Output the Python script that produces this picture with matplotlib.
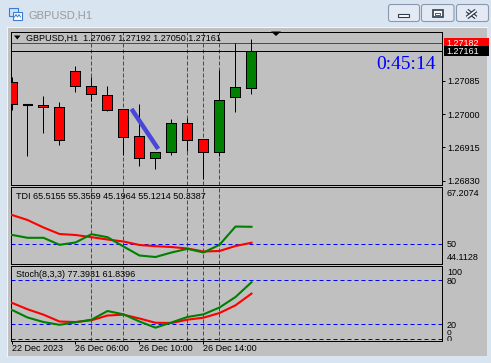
import matplotlib
matplotlib.use('Agg')
import matplotlib.pyplot as plt
from matplotlib.patches import Rectangle, FancyBboxPatch, Polygon
from matplotlib.transforms import Bbox, TransformedBbox, blended_transform_factory

plt.rcParams['font.family'] = ['Liberation Sans', 'DejaVu Sans']

# ---- data (H1 bars, oldest first) ----
symbol = 'GBPUSD,H1'
opens = [1.27081, 1.27023, 1.27022, 1.27017, 1.27109, 1.27071, 1.27048, 1.27012,
         1.26943, 1.26887, 1.26902, 1.26976, 1.26936, 1.26902, 1.27043, 1.27067]
highs = [1.27094, 1.27024, 1.27046, 1.27031, 1.27122, 1.27094, 1.27071, 1.27013,
         1.27026, 1.26902, 1.26987, 1.26990, 1.26936, 1.27112, 1.27182, 1.27192]
lows = [1.27010, 1.26894, 1.26952, 1.26922, 1.27057, 1.27034, 1.27009, 1.26896,
        1.26868, 1.26859, 1.26896, 1.26907, 1.26835, 1.26893, 1.27006, 1.27050]
closes = [1.27025, 1.27023, 1.27017, 1.26933, 1.27071, 1.27050, 1.27011, 1.26942,
          1.26887, 1.26902, 1.26976, 1.26933, 1.26902, 1.27035, 1.27068, 1.27161]

tdi_green = [52.72, 51.82, 51.82, 49.72, 50.41, 52.90, 52.00, 49.21,
             46.51, 46.06, 47.41, 48.52, 47.41, 49.72, 55.20, 55.1214]
tdi_red = [58.72, 57.16, 54.91, 52.96, 52.66, 52.00, 51.31, 50.71,
           49.66, 49.30, 49.06, 48.61, 47.71, 47.86, 49.36, 50.3387]
tdi_values = [65.5155, 55.3559, 45.1964, 55.1214, 50.3387]
tdi_min, tdi_max, tdi_level = 44.1128, 67.2074, 50

stoch_main = [39.9, 29.3, 23.1, 19.3, 22.7, 26.3, 38.1, 33.6,
              23.8, 15.4, 22.5, 30.0, 33.6, 42.9, 57.2, 77.3931]
stoch_signal = [49.5, 40.5, 33.1, 23.8, 23.1, 25.5, 32.0, 33.1,
                27.9, 22.1, 21.8, 26.3, 29.0, 35.4, 45.9, 61.8396]
stoch_levels = [0, 20, 80]

price_ticks = [1.26830, 1.26915, 1.27000, 1.27085]
ask_price = 1.27182
bid_price = 1.27161

time_bars = [0, 4, 8, 12]
time_labels = ['22 Dec 2023', '26 Dec 06:00', '26 Dec 10:00', '26 Dec 14:00']

vline_green = [5, 11, 13]
vline_red = [7, 12]
trend_x = [7.5, 9.17]
trend_y = [1.27013, 1.26911]
countdown = '0:45:14'

# ---- figure in pixel units ----
W, H = 491, 363
GRAY = '#c0c0c0'
LW = 0.72  # one pixel at 100 dpi
fig = plt.figure(figsize=(W / 100, H / 100), dpi=100, facecolor='#d9e4f1')


def px_axes(x0, y0, x1, y1, **kw):
    return fig.add_axes([x0 / W, 1 - y1 / H, (x1 - x0) / W, (y1 - y0) / H], **kw)


def px_layer(z):
    a = px_axes(0, 0, W, H, zorder=z)
    a.set_xlim(0, W)
    a.set_ylim(H, 0)
    a.axis('off')
    return a


bg = px_layer(0)
top = px_layer(5)

# window chrome
bg.add_patch(Rectangle((7, 27), 480, 329, fc=GRAY, ec='none'))
bg.plot([7, 7], [27, 356], color='#f4f4f4', lw=0.8)
bg.plot([7, 487], [27, 27], color='#f4f4f4', lw=0.8)
bg.text(29, 19, symbol, fontsize=8, color='#9a9a9a', va='baseline')
bg.add_patch(Rectangle((9, 8), 9, 8, fc='#cfe2f8', ec='#3b7bd0', lw=0.8))
bg.add_patch(Rectangle((13, 12), 9, 8, fc='white', ec='#3b7bd0', lw=0.8))
bg.plot([14.5, 16, 17.5, 19, 20.5], [17, 14.5, 17, 14.5, 17], color='#3b7bd0', lw=0.7)

for bx0, bx1 in [(388.5, 419.5), (421.5, 454), (456.5, 488.5)]:
    bg.add_patch(FancyBboxPatch((bx0, 4.5), bx1 - bx0, 17, boxstyle='round,pad=0,rounding_size=2.5',
                                fc='#e3eaf4', ec='#8a99b0', lw=0.8))
bg.add_patch(Rectangle((398, 13.5), 11, 3, fc='white', ec='#2f3c50', lw=0.8))
bg.add_patch(Rectangle((433, 10), 10, 7, fc='white', ec='#2f3c50', lw=1.2))
bg.add_patch(Rectangle((435.5, 12.5), 5, 2.5, fc='white', ec='#2f3c50', lw=0.6))
for xs_, ys_ in [([467, 476], [10.5, 17.5]), ([467, 476], [17.5, 10.5])]:
    bg.plot(xs_, ys_, color='#2f3c50', lw=3.0, solid_capstyle='butt')
    bg.plot(xs_, ys_, color='white', lw=1.2, solid_capstyle='butt')

# ---- panels ----
x_lo = (10.5 - 11.5) / 16
x_hi = (442.5 - 11.5) / 16
main = px_axes(10.5, 31.5, 442.5, 184.5, zorder=2)
tdi = px_axes(10.5, 186.5, 442.5, 263.5, zorder=2)
sto = px_axes(10.5, 265.5, 442.5, 340.5, zorder=2)

for a in (main, tdi, sto):
    a.set_facecolor(GRAY)
    a.set_xlim(x_lo, x_hi)
    for s in a.spines.values():
        s.set_linewidth(LW)
        s.set_color('black')
    a.yaxis.tick_right()
    a.tick_params(axis='y', labelsize=6.5, colors='black', length=0, pad=3.2)
    a.tick_params(axis='x', bottom=False, labelbottom=False)
    for x in vline_green:
        a.axvline(x, color='#008000', lw=LW, ls=(0, (4, 2)), zorder=1)
    for x in vline_red:
        a.axvline(x, color='#ff0000', lw=LW, ls=(0, (4, 2)), zorder=1)

# main price panel
main.set_ylim(1.268203, 1.272105)
for i, (o, h, l, c) in enumerate(zip(opens, highs, lows, closes)):
    main.vlines(i, l, h, color='black', lw=LW, zorder=3)
    if c == o:
        main.hlines(o, i - 0.3125, i + 0.3125, color='black', lw=1.5, zorder=4)
    else:
        col = '#008000' if c > o else '#ff0000'
        main.add_patch(Rectangle((i - 0.3125, min(o, c)), 0.625, abs(c - o), fc=col,
                                 ec='black', lw=LW, antialiased=False, zorder=4))
main.axhline(ask_price, color='#ff0000', lw=LW, zorder=2)
main.axhline(bid_price, color='black', lw=LW, zorder=2)
main.plot(trend_x, trend_y, color='#4848d8', lw=3.2, solid_capstyle='butt', zorder=5)
main.set_yticks(price_ticks, labels=[f'{p:.5f}' for p in price_ticks])
main.tick_params(axis='y', direction='out', length=2.5, width=LW, pad=1)

bl = blended_transform_factory(bg.transData, main.transData)
half = 0.000118
for price, col in [(ask_price, '#ff0000'), (bid_price, 'black')]:
    main.add_patch(Rectangle((444, price - half), 45, 2 * half, transform=bl, fc=col,
                             ec='none', clip_on=False, zorder=6))
    main.text(446.5, price, f'{price:.5f}', transform=bl, color='white', fontsize=6.5,
              va='center_baseline', clip_on=False, zorder=7)

header = f'{symbol}  {opens[-1]:.5f} {highs[-1]:.5f} {lows[-1]:.5f} {closes[-1]:.5f}'
top.text(26, 41, header, fontsize=6.5, va='baseline')
top.add_patch(Polygon([[14, 35.5], [20.5, 35.5], [17.25, 39.5]], closed=True, fc='black'))
top.add_patch(Polygon([[271, 31.5], [281, 31.5], [276, 36]], closed=True, fc='black'))
top.text(436, 69, countdown, fontsize=14, color='#0000ff', family='Liberation Serif',
         ha='right', va='baseline')

# TDI panel
tdi.set_ylim(tdi_min, tdi_max)
xs = list(range(len(tdi_green)))
tdi.axhline(tdi_level, color='#0000ff', lw=LW, ls=(0, (4, 3)), zorder=2)
tdi.plot(xs, tdi_red, color='#ff0000', lw=1.5, zorder=3)
tdi.plot(xs, tdi_green, color='#008000', lw=1.5, zorder=4)
tdi.set_yticks([tdi_level], labels=[f'{tdi_level}'])
tdi.annotate(f'{tdi_max:.4f}', xy=(1, tdi_max), xycoords=('axes fraction', 'data'),
             xytext=(4.5, -10), textcoords='offset pixels', fontsize=6.5, va='baseline',
             annotation_clip=False)
tdi.annotate(f'{tdi_min:.4f}', xy=(1, tdi_min), xycoords=('axes fraction', 'data'),
             xytext=(4.5, 4), textcoords='offset pixels', fontsize=6.5, va='baseline',
             annotation_clip=False)
top.text(16, 199, 'TDI ' + ' '.join(f'{v:.4f}' for v in tdi_values), fontsize=6.5,
         va='baseline')

# Stochastic panel
sto.set_ylim(-2.1, 100.2)
for lv in stoch_levels:
    sto.axhline(lv, color='#0000ff', lw=LW, ls=(0, (4, 3)), zorder=2)
sto.plot(xs, stoch_signal, color='#ff0000', lw=1.5, zorder=3)
sto.plot(xs, stoch_main, color='#008000', lw=1.5, zorder=4)
sto.set_yticks([20, 80], labels=['20', '80'])
sto.annotate('100', xy=(1, 100), xycoords=('axes fraction', 'data'),
             xytext=(4.5, -9.4), textcoords='offset pixels', fontsize=6.5, va='baseline',
             annotation_clip=False)
sto.annotate('0', xy=(1, 0), xycoords=('axes fraction', 'data'),
             xytext=(4.5, 4.2), textcoords='offset pixels', fontsize=6, va='baseline',
             annotation_clip=False)
cut = sto.annotate('0', xy=(1, 0), xycoords=('axes fraction', 'data'),
                   xytext=(4.5, -3.3), textcoords='offset pixels', fontsize=6.5, va='baseline',
                   annotation_clip=False)
cut.set_clip_box(TransformedBbox(Bbox([[1.0, 0.0], [1.2, 1.0]]), sto.transAxes))
cut.set_clip_on(True)
top.text(16, 277, f'Stoch(8,3,3) {stoch_main[-1]:.4f} {stoch_signal[-1]:.4f}', fontsize=6.5,
         va='baseline')

sto.set_xticks(time_bars, labels=time_labels)
sto.tick_params(axis='x', bottom=True, labelbottom=True, direction='out', length=2.5,
                width=LW, pad=0, labelsize=6.5)
for lab in sto.get_xticklabels():
    lab.set_ha('left')

fig.savefig('out.png', dpi=100, facecolor=fig.get_facecolor())
